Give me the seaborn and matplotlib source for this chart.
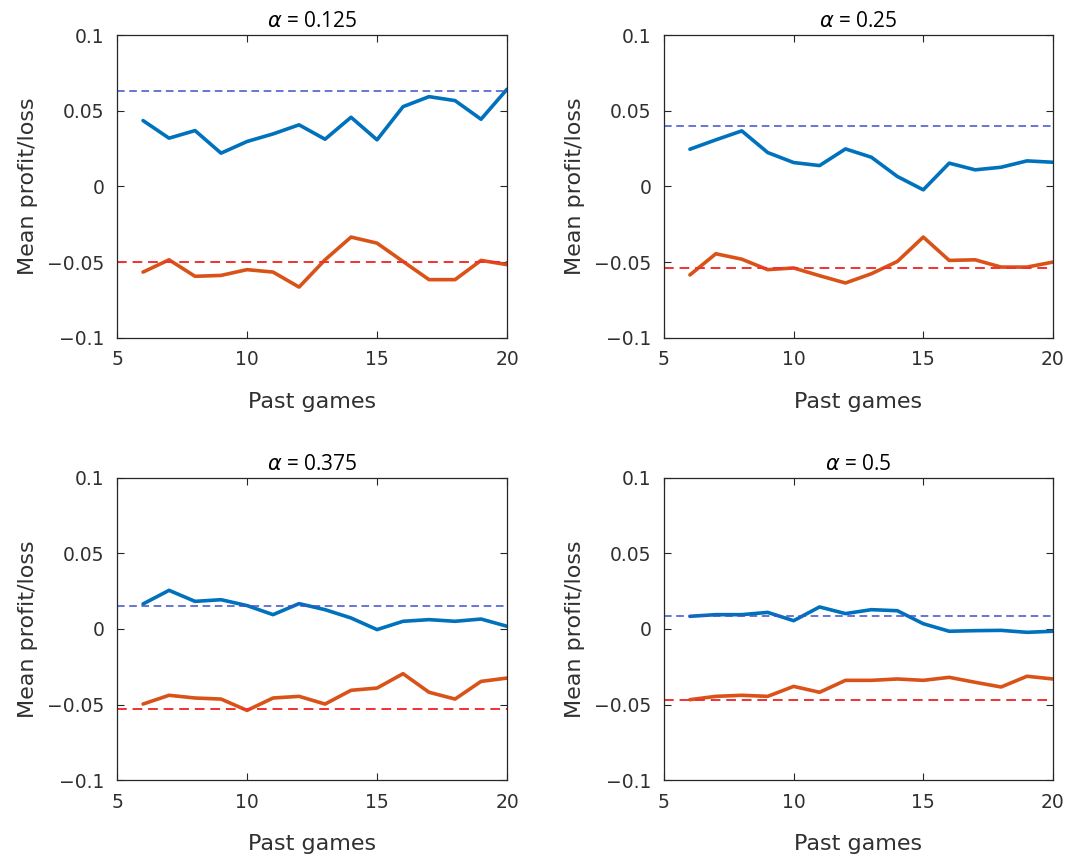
import numpy as np
import pandas as pd
import seaborn as sns
import matplotlib.pyplot as plt

# values
past_games = list(range(6, 21))
alphas = ["0.125", "0.25", "0.375", "0.5"]

profit_0125 = [0.0435, 0.0319, 0.0369, 0.0220, 0.0297, 0.0347, 0.0407, 0.0312,
               0.0457, 0.0308, 0.0527, 0.0593, 0.0567, 0.0444, 0.0642]
loss_0125 = [-0.0565, -0.0484, -0.0593, -0.0587, -0.0549, -0.0565, -0.0664, -0.0484,
             -0.0334, -0.0374, -0.0495, -0.0615, -0.0615, -0.0488, -0.0516]

profit_025 = [0.0246, 0.0308, 0.0367, 0.0224, 0.0158, 0.0138, 0.0248, 0.0193,
              0.0066, -0.0022, 0.0154, 0.0110, 0.0127, 0.0169, 0.0160]
loss_025 = [-0.0584, -0.0444, -0.0480, -0.0549, -0.0538, -0.0589, -0.0637, -0.0576,
            -0.0495, -0.0334, -0.0488, -0.0484, -0.0532, -0.0532, -0.0499]

profit_0375 = [0.0166, 0.0256, 0.0183, 0.0194, 0.0155, 0.0095, 0.0168, 0.0128,
               0.0073, -0.0004, 0.0051, 0.0062, 0.0051, 0.0066, 0.0018]
loss_0375 = [-0.0497, -0.0439, -0.0457, -0.0464, -0.0539, -0.0457, -0.0446, -0.0497,
             -0.0406, -0.0391, -0.0296, -0.0419, -0.0464, -0.0347, -0.0325]

profit_05 = [0.0084, 0.0095, 0.0095, 0.0110, 0.0055, 0.0146, 0.0102, 0.0128,
             0.0121, 0.0035, -0.0015, -0.0011, -0.0009, -0.0022, -0.0015]
loss_05 = [-0.0468, -0.0446, -0.0439, -0.0446, -0.0380, -0.0419, -0.0340, -0.0340,
           -0.0331, -0.0340, -0.0320, -0.0353, -0.0384, -0.0313, -0.0331]

profit_ref = [0.0631, 0.0402, 0.0150, 0.0084]
loss_ref = [-0.0499, -0.0536, -0.0528, -0.0468]

profits = [profit_0125, profit_025, profit_0375, profit_05]
losses = [loss_0125, loss_025, loss_0375, loss_05]

rows = []
for a, p, l in zip(alphas, profits, losses):
    for g, pv, lv in zip(past_games, p, l):
        rows.append({"alpha": a, "games": g, "kind": "profit", "value": pv})
        rows.append({"alpha": a, "games": g, "kind": "loss", "value": lv})
df = pd.DataFrame(rows)

sns.set_style("ticks")
plt.rcParams["font.family"] = ["DejaVu Sans"]
plt.rcParams["xtick.direction"] = "in"
plt.rcParams["ytick.direction"] = "in"

fig = plt.figure(figsize=(10.67, 8.58), dpi=100)
boxes = [
    [0.1097, 0.6061, 0.3655, 0.3531],
    [0.6223, 0.6061, 0.3645, 0.3531],
    [0.1097, 0.0909, 0.3655, 0.3520],
    [0.6223, 0.0909, 0.3645, 0.3520],
]
palette = {"profit": "#0072BD", "loss": "#D95319"}
text_col = "#303030"

for i, a in enumerate(alphas):
    ax = fig.add_axes(boxes[i])
    sub = df[df["alpha"] == a]
    sns.lineplot(data=sub, x="games", y="value", hue="kind", palette=palette,
                 linewidth=2.6, legend=False, ax=ax)
    ax.axhline(profit_ref[i], color="#3F51C8", linestyle=(0, (5, 3)), linewidth=1.1)
    ax.axhline(loss_ref[i], color="#F23030", linestyle=(0, (5, 3)), linewidth=1.4)
    ax.set_xlim(5, 20)
    ax.set_ylim(-0.1, 0.1)
    ax.set_xticks([5, 10, 15, 20])
    ax.set_yticks([-0.1, -0.05, 0, 0.05, 0.1])
    ax.set_yticklabels(["\u22120.1", "\u22120.05", "0", "0.05", "0.1"])
    ax.tick_params(top=True, right=True, labelsize=13.5, length=5, width=0.8,
                   colors="#262626", labelcolor=text_col, pad=9)
    for s in ax.spines.values():
        s.set_visible(True)
        s.set_linewidth(0.9)
        s.set_color("#262626")
    ax.set_xlabel("Past games", fontsize=16, color=text_col, labelpad=16)
    ax.set_ylabel("Mean profit/loss", fontsize=16, color=text_col, labelpad=7)
    ax.set_title(r"$\alpha$ = " + a, fontsize=15, color="black",
                 family=["Open Sans", "DejaVu Sans"], pad=6)

plt.savefig("out.png", dpi=100)
